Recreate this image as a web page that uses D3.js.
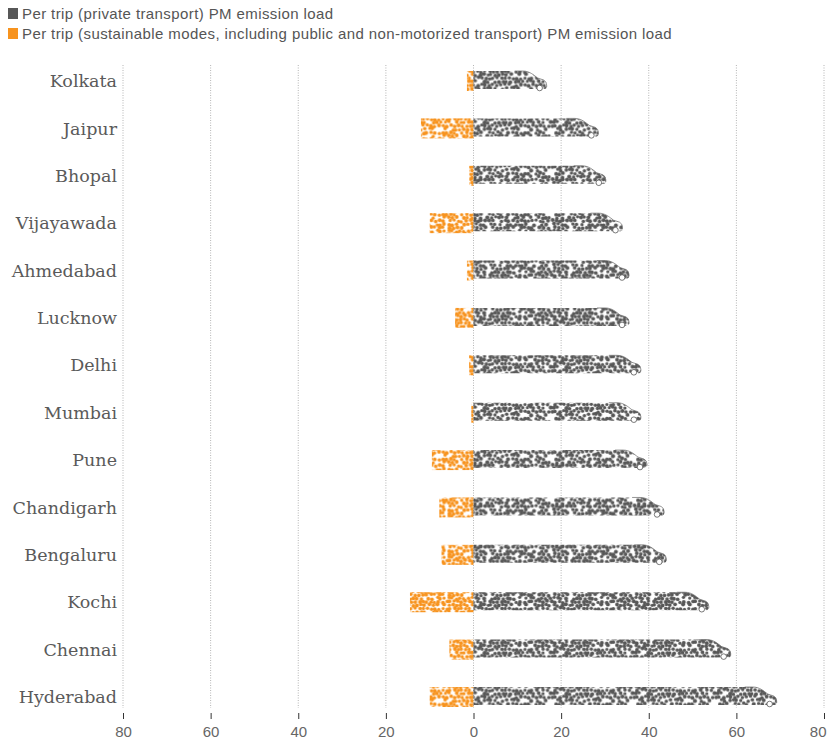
<!DOCTYPE html>
<html><head><meta charset="utf-8">
<script src="https://cdn.jsdelivr.net/npm/d3@7"></script>
<style>body{margin:0;background:#fff}svg{display:block}</style>
</head><body>
<svg id="chart" width="828" height="749"></svg>
<script>
const cities = ["Kolkata","Jaipur","Bhopal","Vijayawada","Ahmedabad","Lucknow","Delhi","Mumbai","Pune","Chandigarh","Bengaluru","Kochi","Chennai","Hyderabad"];
const privateLoad = [16.7, 28.5, 30.2, 34, 35.5, 35.5, 38.2, 38.2, 39.6, 43.5, 44, 53.7, 58.7, 69.2];
const sustainableLoad = [1.5, 12, 1, 10, 1.5, 4.2, 1, 0.5, 9.5, 7.8, 7.3, 14.5, 5.5, 10];
const tickValues = [-80, -60, -40, -20, 0, 20, 40, 60, 80];
const legendLabels = ["Per trip (private transport) PM emission load",
  "Per trip (sustainable modes, including public and non-motorized transport) PM emission load"];
const colors = ["#575757", "#f7931e"];

const svg = d3.select("#chart");
const x = d3.scaleLinear().domain([-80, 80]).range([123, 824]);
const y = d3.scalePoint().domain(cities).range([81, 697]);
const barH = 20;

// decorative dot textures (deterministic)
const defs = svg.append("defs");
function hash(i){ const s = Math.sin(i*12.9898+78.233)*43758.5453; return s - Math.floor(s); }
colors.forEach((c, k) => {
  const sp = 3.9, rows = 12, rh = 3.4, pw = sp * 21, ph = rh * rows;
  const p = defs.append("pattern").attr("id", "dots" + k).attr("patternUnits", "userSpaceOnUse")
    .attr("width", pw).attr("height", ph);
  let n = 0;
  for (let row = 0; row < rows; row++) {
    for (let col = 0; col < 21; col++) {
      n++;
      const h = hash(n * 1.37 + k * 1000);
      if (h < 0.12) continue;
      const off = (row % 2) * sp / 2;
      const jx = (hash(n * 3 + 7) - 0.5) * 2.0, jy = (hash(n * 5 + 11) - 0.5) * 2.0;
      const cx = col * sp + off + jx, cy = row * rh + jy;
      const r = 1.6 + hash(n * 7 + 3) * 0.45;
      [[0,0],[pw,0],[-pw,0],[0,ph],[0,-ph]].forEach(([dx, dy]) =>
        p.append("circle").attr("cx", cx + dx).attr("cy", cy + dy).attr("r", r).attr("fill", c));
    }
  }
});

// gridlines
svg.append("g").selectAll("line").data(tickValues).join("line")
  .attr("x1", d => x(d)).attr("x2", d => x(d)).attr("y1", 65).attr("y2", 708)
  .attr("stroke", "#b5b5b5").attr("stroke-width", 1).attr("stroke-dasharray", "1,1.5");

// axis
const axis = d3.axisBottom(x).tickValues(tickValues).tickFormat(d => Math.abs(d)).tickSize(6).tickPadding(7);
const ax = svg.append("g").attr("transform", "translate(0,713)").call(axis);
ax.select(".domain").remove();
ax.selectAll(".tick line").attr("stroke", "#333");
ax.selectAll(".tick text").attr("fill", "#666").attr("font-family", "Liberation Sans, Arial, sans-serif").attr("font-size", 15);
ax.selectAll(".tick text").filter(d => d === 80 ).attr("text-anchor", "end").attr("dx", 2);

// category labels
svg.append("g").selectAll("text").data(cities).join("text")
  .attr("x", 117).attr("y", d => y(d)).attr("dy", "0.35em").attr("text-anchor", "end")
  .attr("font-family", "DejaVu Serif").attr("font-size", 17.5).attr("fill", "#5a5a5a")
  .text(d => d);

// sustainable bars
svg.append("g").selectAll("rect").data(cities).join("rect")
  .attr("x", (d, i) => x(-sustainableLoad[i])).attr("y", d => y(d) - barH / 2)
  .attr("width", (d, i) => x(0) - x(-sustainableLoad[i])).attr("height", barH)
  .attr("fill", "url(#dots1)");

// private bars shaped as cars
function carPath(x0, x1, t) {
  const b = t + barH;
  return `M${x0},${t} H${x1 - 24} C${x1 - 17},${t} ${x1 - 13},${t + 4} ${x1 - 9},${t + 7}`
    + ` L${x1 - 3},${t + 9} Q${x1},${t + 10.5} ${x1},${t + 14} V${b - 4} Q${x1},${b - 2} ${x1 - 3},${b - 2}`
    + ` H${x0} Z`;
}
const cars = svg.append("g").selectAll("g").data(cities).join("g");
cars.append("path")
  .attr("d", (d, i) => carPath(x(0), x(privateLoad[i]), y(d) - barH / 2))
  .attr("fill", "url(#dots0)");
cars.append("path")
  .attr("d", (d, i) => { const x1 = x(privateLoad[i]), t = y(d) - barH / 2;
    return `M${x1 - 32},${t} H${x1 - 24} C${x1 - 17},${t} ${x1 - 13},${t + 4} ${x1 - 9},${t + 7} L${x1 - 3},${t + 9} Q${x1},${t + 10.5} ${x1},${t + 14} V${t + 16}`; })
  .attr("fill", "none").attr("stroke", "#6a6a6a").attr("stroke-width", 0.7);
cars.append("circle")
  .attr("cx", (d, i) => x(privateLoad[i]) - 7).attr("cy", d => y(d) + barH / 2 - 3)
  .attr("r", 2.8).attr("fill", "#fff").attr("stroke", "#575757").attr("stroke-width", 0.8);

// legend
const lg = svg.append("g").selectAll("g").data(legendLabels).join("g")
  .attr("transform", (d, i) => `translate(8,${8 + i * 20})`);
lg.append("rect").attr("width", 10).attr("height", 11).attr("fill", (d, i) => colors[i]);
lg.append("text").attr("x", 14).attr("y", 10.5).attr("font-family", "Liberation Sans, Arial, sans-serif")
  .attr("font-size", 15).attr("letter-spacing", 0.4).attr("fill", "#555").text(d => d);
</script>
</body></html>
